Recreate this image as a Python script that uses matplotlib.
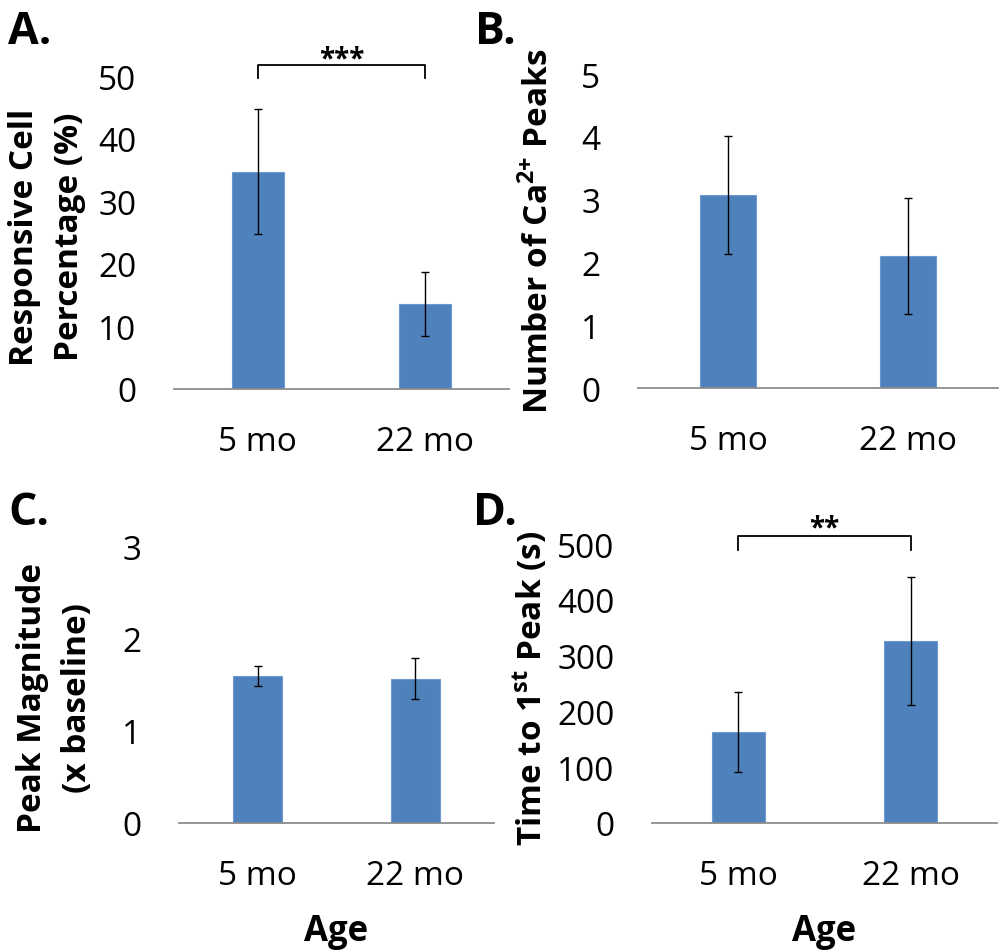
import matplotlib
matplotlib.use("Agg")
import matplotlib.pyplot as plt
import numpy as np

W, H = 1004, 953
FONT = "Open Sans"
plt.rcParams["font.family"] = [FONT, "DejaVu Sans"]
plt.rcParams["mathtext.fontset"] = "custom"
plt.rcParams["mathtext.rm"] = FONT
plt.rcParams["mathtext.bf"] = f"{FONT}:bold"

# data
ages = ["5 mo", "22 mo"]
resp_pct = [34.7, 13.6]
resp_pct_err = [10.0, 5.1]
n_peaks = [3.08, 2.10]
n_peaks_err = [0.94, 0.92]
peak_mag = [1.59, 1.56]
peak_mag_err = [0.107, 0.222]
t_first = [163, 326]
t_first_err = [72, 114]

BAR = "#4F81BD"


def px_axes(fig, x0, x1, ytop, ybot):
    return fig.add_axes([x0 / W, 1 - ybot / H, (x1 - x0) / W, (ybot - ytop) / H])


def draw_panel(ax, vals, errs, ymax, step, show_age):
    x = np.arange(len(ages))
    ax.bar(x, vals, width=0.31, color=BAR, edgecolor="#6E9AD0", linewidth=0.8)
    ax.errorbar(x, vals, yerr=errs, fmt="none", ecolor="black", elinewidth=1.0,
                capsize=3, capthick=1.0)
    ax.set_xlim(-0.5, 1.5)
    ax.set_ylim(0, ymax)
    ax.set_yticks(np.arange(0, ymax + step / 2, step))
    ax.set_xticks(x)
    ax.set_xticklabels(ages)
    for s in ("top", "right", "left"):
        ax.spines[s].set_visible(False)
    ax.spines["bottom"].set_color("#8c8c8c")
    ax.spines["bottom"].set_linewidth(1.3)
    ax.tick_params(axis="both", length=0, labelsize=24)
    ax.tick_params(axis="y", pad=27)
    ax.tick_params(axis="x", pad=26)
    if show_age:
        ax.set_xlabel("Age", fontsize=25, fontweight="bold", labelpad=15)


def bracket(ax, y_low, y_high, stars, y_star):
    ax.plot([0, 0, 1, 1], [y_low, y_high, y_high, y_low], color="black", lw=1.3,
            clip_on=False)
    ax.text(0.5, y_star, stars, ha="center", va="baseline", fontsize=20,
            fontweight="bold", clip_on=False)


def ylabel(fig, xc, yc, text):
    fig.text(xc / W, 1 - yc / H, text, rotation=90, ha="center", va="center",
             fontsize=24, fontweight="bold", linespacing=1.45)


def panel_letter(fig, x, ytop, letter):
    fig.text(x / W, 1 - ytop / H, letter, ha="left", va="top", fontsize=32,
             fontweight="bold")


fig = plt.figure(figsize=(W / 100, H / 100), dpi=100)

ax_a = px_axes(fig, 174, 509, 77, 390)
draw_panel(ax_a, resp_pct, resp_pct_err, 50, 10, False)
bracket(ax_a, 49.7, 51.8, "***", 51.6)
ylabel(fig, 47, 237, "Responsive Cell\nPercentage (%)")

ax_b = px_axes(fig, 638, 998, 75, 389)
draw_panel(ax_b, n_peaks, n_peaks_err, 5, 1, False)
ylabel(fig, 539, 231, r"Number of Ca$^{\mathbf{2{+}}}$ Peaks")

ax_c = px_axes(fig, 179, 494, 547, 824)
draw_panel(ax_c, peak_mag, peak_mag_err, 3, 1, True)
ylabel(fig, 55, 698, "Peak Magnitude\n(x baseline)")

ax_d = px_axes(fig, 652, 997, 545, 824)
draw_panel(ax_d, t_first, t_first_err, 500, 100, True)
bracket(ax_d, 490, 515, "**", 516)
ylabel(fig, 531, 688, r"Time to 1$^{\mathbf{st}}$ Peak (s)")

panel_letter(fig, 8, 10, "A.")
panel_letter(fig, 475, 10, "B.")
panel_letter(fig, 8, 491, "C.")
panel_letter(fig, 473, 491, "D.")

fig.savefig("out.png", dpi=100)
